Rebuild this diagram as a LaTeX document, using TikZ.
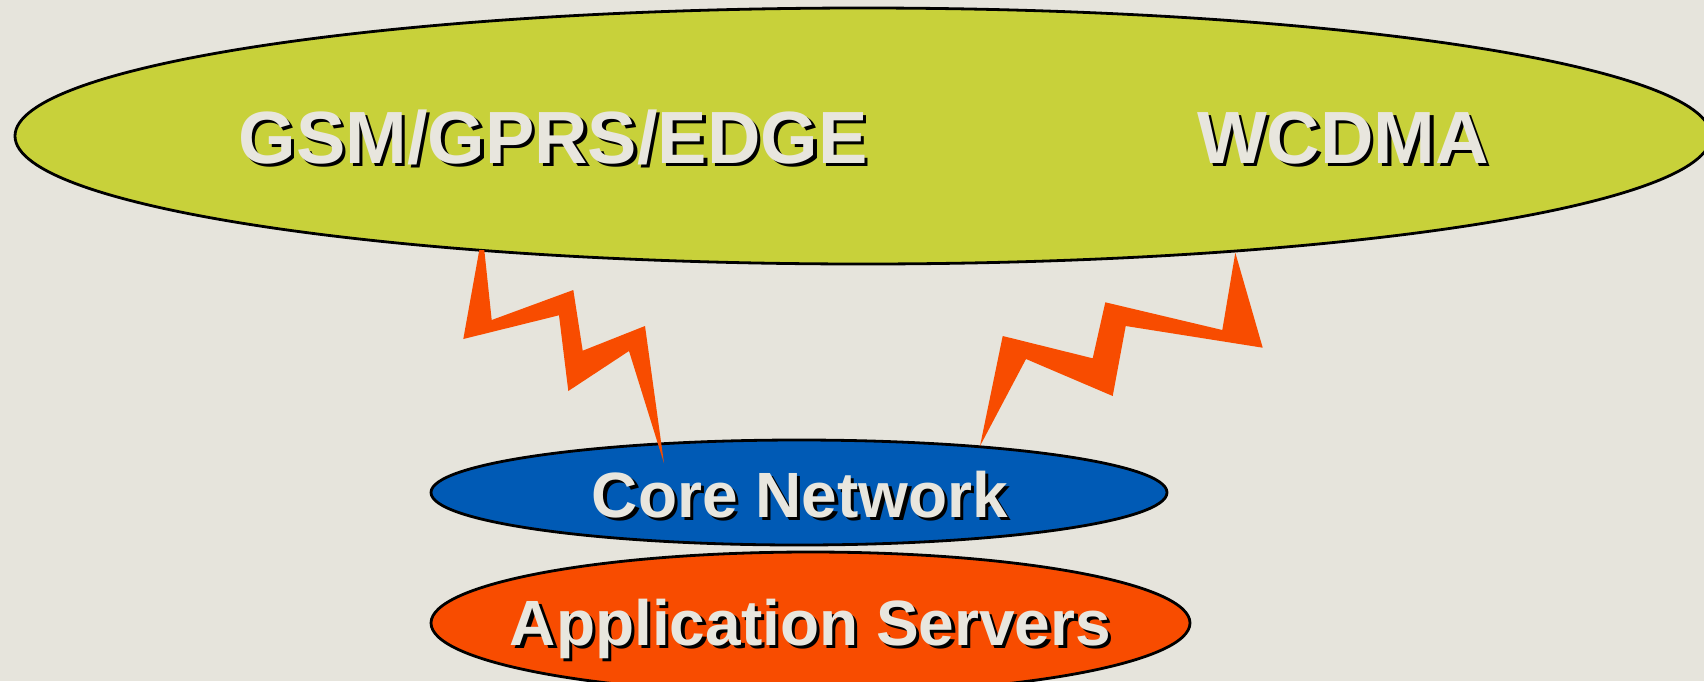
\documentclass[tikz,border=0pt]{standalone}
\usepackage{fontspec}
\setmainfont{Liberation Sans}
\usetikzlibrary{shapes.geometric}

\definecolor{paper}{RGB}{230,228,220}
\definecolor{radiogreen}{RGB}{200,209,58}
\definecolor{coreblue}{RGB}{0,90,181}
\definecolor{boltorange}{RGB}{248,76,0}
\definecolor{labelface}{RGB}{232,230,222}

\tikzset{
  outline/.style={ellipse, draw=black, line width=2.8pt, inner sep=0pt},
  bolt/.style={fill=boltorange, draw=none},
  caption/.style={anchor=base, inner sep=0pt, text=labelface},
  toplbl/.style={caption, font=\fontsize{74}{80}\selectfont\bfseries},
  lowlbl/.style={caption, font=\fontsize{64}{70}\selectfont\bfseries},
}

% text with a black drop shadow set behind it, down and to the right
\newcommand\dropshadowed[1]{%
  \makebox[0pt][l]{\hspace{3.5pt}\raisebox{-3.5pt}{\color{black}#1}}#1}

\begin{document}
\begin{tikzpicture}[x=1pt, y=-1pt]
  \useasboundingbox (0,0) rectangle (1704,681);
  \clip (0,0) rectangle (1704,681);
  \fill[paper] (0,0) rectangle (1704,681);

  % radio access networks, core and services
  \node[outline, fill=radiogreen, minimum width=1696pt, minimum height=256pt] (radio) at (863,136) {};
  \node[outline, fill=coreblue, minimum width=736pt, minimum height=105pt] (core) at (799,492.5) {};
  \node[outline, fill=boltorange, minimum width=759pt, minimum height=142pt] (apps) at (810.5,623) {};

  % radio links
  \fill[bolt] (479.3,250) -- (463.3,339) -- (559,315.3) -- (568.3,391) -- (629,351)
    -- (664,463.3) -- (645,326) -- (582.7,350.7) -- (573.3,290) -- (491.7,320)
    -- (484.3,250) -- cycle;
  \fill[bolt] (980,446) -- (1002.7,336) -- (1092.7,358.3) -- (1105.3,302.3)
    -- (1222.3,330) -- (1235.3,252.7) -- (1262.7,347.7) -- (1125.7,326)
    -- (1112.7,396) -- (1026,359) -- cycle;

  % labels
  \node[toplbl] (gsm) at (553,163) {\dropshadowed{GSM/GPRS/EDGE}};
  \node[toplbl] (wcdma) at (1343,163) {\dropshadowed{WCDMA}};
  \node[lowlbl] (corelbl) at (800,517) {\dropshadowed{Core Network}};
  \node[lowlbl] (appslbl) at (810.5,645) {\dropshadowed{Application Servers}};
\end{tikzpicture}
\end{document}
